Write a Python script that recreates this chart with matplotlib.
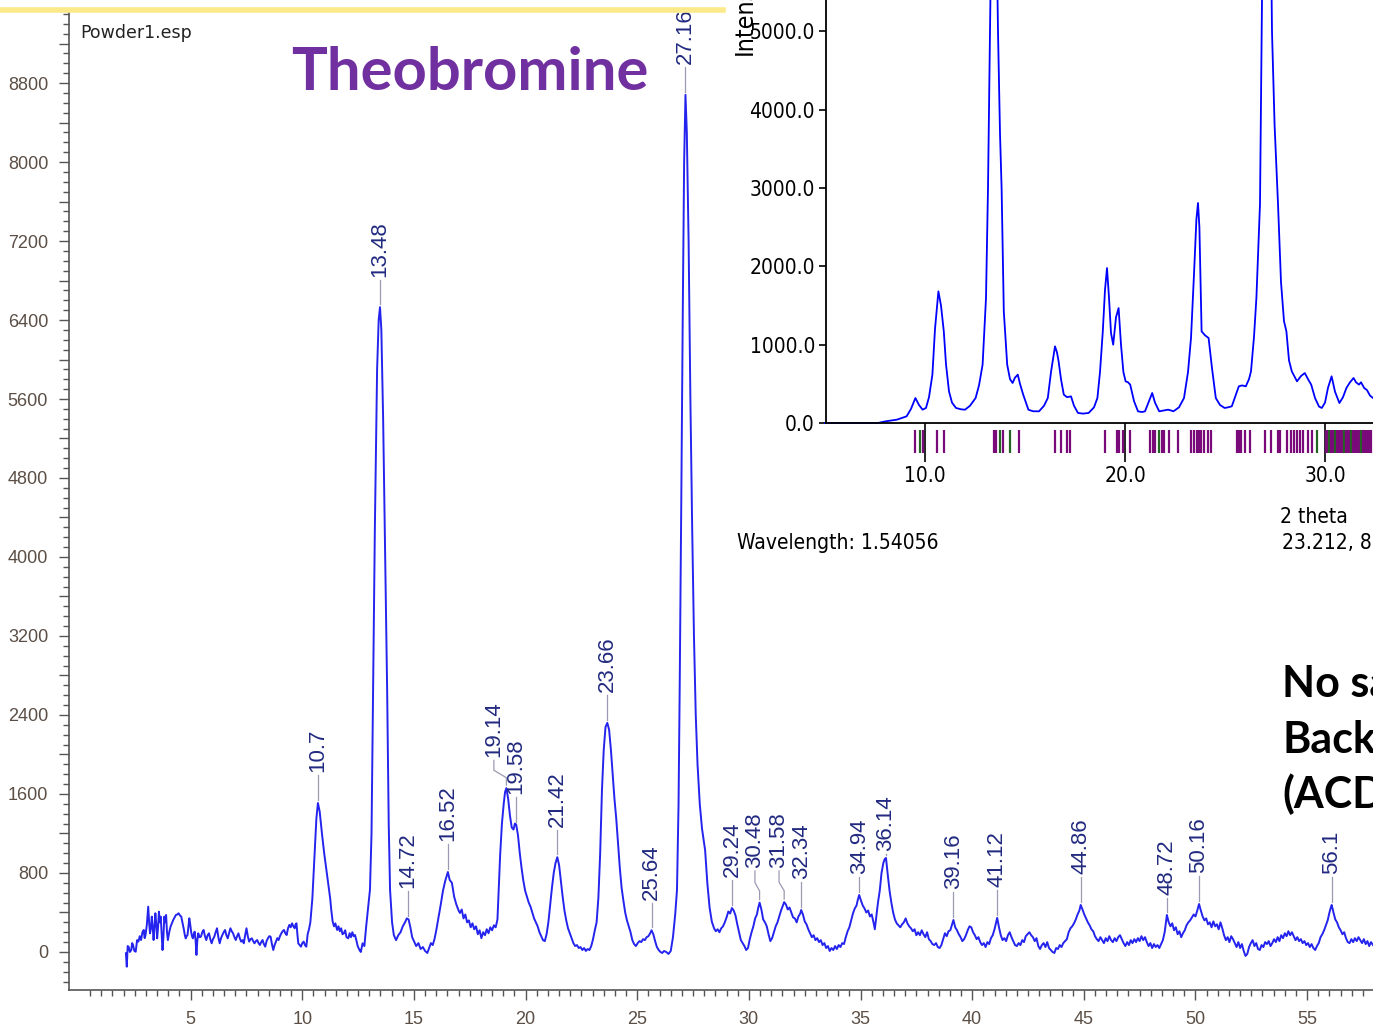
import os
import numpy as np
import matplotlib
matplotlib.use('Agg')
import matplotlib.pyplot as plt
import matplotlib.font_manager as fm
from matplotlib.ticker import MultipleLocator, FixedLocator, FuncFormatter
from matplotlib.lines import Line2D

plt.rcParams['font.family'] = ['Liberation Sans', 'DejaVu Sans']

W, H = 1373, 1030

pattern = [
    (2.10, -13), (2.14, -149), (2.18, 60), (2.22, 54), (2.28, 0), (2.34, 20), (2.38, 90), (2.42, 71),
    (2.48, 10), (2.54, 3), (2.60, 120), (2.66, 105), (2.72, 160), (2.78, 121), (2.84, 200), (2.90, 223),
    (2.94, 140), (2.98, 172), (3.04, 280), (3.10, 459), (3.14, 300), (3.18, 189), (3.22, 240), (3.26, 358),
    (3.30, 250), (3.34, 121), (3.38, 260), (3.42, 392), (3.46, 280), (3.50, 138), (3.54, 250), (3.58, 408),
    (3.62, 300), (3.66, 358), (3.70, 180), (3.74, 20), (3.78, 150), (3.82, 358), (3.86, 300), (3.90, 375),
    (3.94, 200), (3.98, 120), (4.04, 200), (4.10, 257), (4.16, 290), (4.22, 324), (4.28, 350), (4.34, 375),
    (4.40, 380), (4.46, 392), (4.52, 370), (4.58, 358), (4.64, 290), (4.70, 223), (4.74, 170), (4.78, 138),
    (4.82, 160), (4.86, 172), (4.90, 260), (4.94, 341), (4.98, 280), (5.02, 206), (5.06, 160), (5.10, 138),
    (5.14, 180), (5.18, 206), (5.22, 120), (5.26, -30), (5.30, 120), (5.34, 189), (5.40, 150), (5.46, 155),
    (5.52, 200), (5.58, 223), (5.64, 160), (5.70, 121), (5.76, 170), (5.82, 189), (5.88, 130), (5.94, 88),
    (6.00, 130), (6.06, 155), (6.12, 200), (6.18, 240), (6.24, 150), (6.30, 88), (6.36, 140), (6.42, 172),
    (6.48, 200), (6.54, 223), (6.60, 170), (6.66, 138), (6.72, 190), (6.78, 240), (6.84, 210), (6.90, 189),
    (6.96, 150), (7.02, 121), (7.08, 160), (7.14, 189), (7.20, 140), (7.26, 105), (7.32, 120), (7.38, 88),
    (7.44, 170), (7.50, 240), (7.56, 160), (7.62, 105), (7.68, 130), (7.74, 138), (7.80, 110), (7.86, 88),
    (7.92, 110), (7.98, 121), (8.04, 90), (8.10, 71), (8.16, 100), (8.22, 121), (8.28, 80), (8.34, 54),
    (8.40, 110), (8.46, 138), (8.52, 160), (8.58, 155), (8.64, 80), (8.70, 20), (8.76, 70), (8.82, 105),
    (8.88, 140), (8.94, 121), (9.00, 160), (9.06, 189), (9.12, 210), (9.18, 223), (9.24, 190), (9.30, 172),
    (9.36, 240), (9.42, 274), (9.48, 250), (9.54, 290), (9.60, 260), (9.66, 240), (9.70, 280), (9.74, 290),
    (9.78, 180), (9.82, 88), (9.88, 70), (9.94, 54), (10.00, 90), (10.06, 105), (10.12, 70), (10.18, 54),
    (10.24, 180), (10.30, 230), (10.36, 300), (10.45, 540), (10.55, 1000), (10.63, 1350), (10.70, 1509),
    (10.78, 1420), (10.88, 1200), (10.98, 1000), (11.08, 830), (11.16, 695), (11.25, 540), (11.30, 420),
    (11.36, 307), (11.42, 260), (11.48, 290), (11.56, 223), (11.62, 260), (11.68, 210), (11.74, 240),
    (11.80, 180), (11.86, 189), (11.92, 220), (11.98, 150), (12.06, 138), (12.12, 190), (12.18, 150),
    (12.24, 200), (12.30, 160), (12.36, 172), (12.42, 120), (12.48, 60), (12.56, 20), (12.62, 0),
    (12.70, 88), (12.78, 60), (12.86, 257), (12.95, 450), (13.03, 630), (13.10, 1200), (13.17, 2650),
    (13.25, 4300), (13.35, 5900), (13.42, 6400), (13.48, 6530), (13.54, 6300), (13.62, 5400), (13.70, 4200),
    (13.80, 2650), (13.87, 1300), (13.93, 630), (14.02, 300), (14.10, 170), (14.20, 120), (14.30, 170),
    (14.40, 200), (14.50, 260), (14.60, 300), (14.68, 340), (14.76, 330), (14.84, 250), (14.92, 150),
    (15.00, 110), (15.10, 60), (15.20, 90), (15.30, 30), (15.40, 50), (15.50, 10), (15.60, -10), (15.68, 40),
    (15.76, 90), (15.84, 70), (15.92, 130), (16.00, 220), (16.10, 350), (16.20, 480), (16.30, 620),
    (16.40, 720), (16.52, 810), (16.60, 730), (16.70, 700), (16.80, 560), (16.90, 480), (17.00, 420),
    (17.06, 395), (17.14, 430), (17.22, 340), (17.30, 380), (17.38, 300), (17.46, 320), (17.54, 250),
    (17.62, 290), (17.70, 230), (17.78, 260), (17.86, 180), (17.94, 220), (18.02, 140), (18.10, 200),
    (18.18, 170), (18.26, 230), (18.34, 190), (18.42, 250), (18.50, 220), (18.58, 270), (18.66, 250),
    (18.74, 330), (18.80, 650), (18.86, 980), (18.94, 1300), (19.02, 1500), (19.08, 1620), (19.14, 1660),
    (19.22, 1550), (19.30, 1380), (19.38, 1260), (19.46, 1240), (19.52, 1300), (19.58, 1290), (19.66, 1180),
    (19.74, 1000), (19.82, 850), (19.90, 720), (19.98, 620), (20.06, 560), (20.14, 500), (20.22, 460),
    (20.30, 400), (20.38, 340), (20.46, 300), (20.54, 260), (20.62, 200), (20.70, 160), (20.78, 120),
    (20.86, 110), (20.94, 180), (21.02, 300), (21.10, 480), (21.18, 650), (21.26, 800), (21.34, 900),
    (21.42, 960), (21.50, 880), (21.58, 720), (21.66, 560), (21.74, 420), (21.82, 320), (21.90, 240),
    (21.98, 190), (22.06, 140), (22.14, 90), (22.22, 60), (22.30, 70), (22.38, 40), (22.46, 50),
    (22.54, 20), (22.62, 40), (22.70, 10), (22.78, 30), (22.86, 20), (22.94, 60), (23.02, 130),
    (23.10, 220), (23.18, 300), (23.26, 550), (23.34, 1000), (23.42, 1640), (23.50, 2050), (23.58, 2280),
    (23.66, 2320), (23.74, 2250), (23.82, 2050), (23.90, 1800), (23.98, 1550), (24.06, 1350), (24.14, 1100),
    (24.22, 850), (24.30, 650), (24.38, 520), (24.46, 400), (24.54, 320), (24.62, 260), (24.70, 200),
    (24.78, 120), (24.86, 80), (24.94, 60), (25.02, 90), (25.10, 110), (25.18, 100), (25.26, 130),
    (25.34, 120), (25.42, 150), (25.50, 160), (25.58, 190), (25.64, 220), (25.72, 180), (25.80, 110),
    (25.88, 50), (25.96, 20), (26.04, 0), (26.12, -10), (26.20, 10), (26.30, 0), (26.40, -20), (26.50, 10),
    (26.60, 150), (26.70, 380), (26.78, 628), (26.85, 1500), (26.90, 2650), (26.97, 4500), (27.04, 6500),
    (27.10, 8000), (27.16, 8680), (27.22, 8300), (27.30, 7200), (27.38, 5600), (27.46, 4300), (27.54, 3200),
    (27.62, 2400), (27.70, 1900), (27.80, 1500), (27.90, 1250), (28.04, 1030), (28.14, 695), (28.24, 450),
    (28.34, 307), (28.44, 240), (28.52, 210), (28.60, 230), (28.68, 200), (28.76, 240), (28.84, 260),
    (28.92, 300), (29.00, 350), (29.08, 410), (29.16, 390), (29.24, 445), (29.32, 420), (29.40, 370),
    (29.48, 280), (29.56, 200), (29.64, 120), (29.72, 90), (29.80, 60), (29.88, 20), (29.96, 40),
    (30.04, 130), (30.12, 200), (30.20, 260), (30.28, 340), (30.36, 380), (30.42, 450), (30.48, 500),
    (30.56, 430), (30.64, 330), (30.72, 300), (30.80, 260), (30.88, 180), (30.96, 110), (31.04, 140),
    (31.12, 200), (31.20, 260), (31.28, 300), (31.36, 360), (31.44, 420), (31.52, 470), (31.58, 505),
    (31.66, 480), (31.74, 430), (31.82, 450), (31.90, 400), (31.98, 350), (32.06, 340), (32.14, 300),
    (32.22, 360), (32.30, 390), (32.34, 425), (32.42, 380), (32.50, 310), (32.58, 280), (32.66, 230),
    (32.74, 190), (32.82, 150), (32.90, 170), (32.98, 120), (33.06, 140), (33.14, 100), (33.22, 120),
    (33.30, 70), (33.38, 90), (33.46, 40), (33.54, 60), (33.62, 10), (33.70, 40), (33.78, 20), (33.86, 60),
    (33.94, 30), (34.02, 70), (34.10, 50), (34.18, 90), (34.26, 80), (34.34, 150), (34.42, 210),
    (34.50, 250), (34.58, 320), (34.66, 390), (34.74, 440), (34.82, 470), (34.88, 530), (34.94, 577),
    (35.02, 520), (35.10, 470), (35.18, 440), (35.26, 400), (35.34, 420), (35.42, 360), (35.50, 380),
    (35.58, 300), (35.64, 230), (35.70, 350), (35.78, 500), (35.86, 620), (35.94, 800), (36.02, 900),
    (36.08, 940), (36.14, 952), (36.22, 780), (36.30, 620), (36.38, 500), (36.46, 400), (36.54, 330),
    (36.62, 290), (36.70, 270), (36.78, 250), (36.86, 280), (36.94, 300), (37.02, 340), (37.10, 290),
    (37.18, 260), (37.26, 240), (37.34, 210), (37.42, 230), (37.50, 170), (37.58, 200), (37.66, 170),
    (37.74, 220), (37.82, 180), (37.90, 150), (37.98, 200), (38.06, 130), (38.14, 110), (38.22, 80),
    (38.30, 70), (38.38, 90), (38.46, 50), (38.54, 40), (38.62, 70), (38.70, 130), (38.78, 190),
    (38.86, 160), (38.94, 210), (39.02, 220), (39.10, 280), (39.16, 324), (39.24, 250), (39.32, 220),
    (39.40, 180), (39.48, 150), (39.56, 110), (39.64, 130), (39.72, 170), (39.80, 220), (39.88, 260),
    (39.96, 250), (40.04, 200), (40.12, 170), (40.20, 130), (40.28, 150), (40.36, 100), (40.44, 70),
    (40.52, 90), (40.60, 50), (40.68, 100), (40.76, 80), (40.84, 140), (40.92, 170), (41.00, 230),
    (41.06, 290), (41.12, 345), (41.20, 250), (41.28, 170), (41.36, 120), (41.44, 140), (41.52, 110),
    (41.60, 170), (41.68, 200), (41.76, 150), (41.84, 110), (41.92, 70), (42.00, 60), (42.08, 90),
    (42.16, 70), (42.24, 120), (42.32, 100), (42.40, 160), (42.48, 180), (42.56, 200), (42.64, 170),
    (42.72, 150), (42.80, 110), (42.88, 140), (42.96, 60), (43.04, 30), (43.12, 70), (43.20, 90),
    (43.28, 50), (43.36, 100), (43.44, 40), (43.52, 20), (43.60, 0), (43.68, -10), (43.76, 40), (43.84, 30),
    (43.92, 70), (44.00, 50), (44.08, 90), (44.16, 110), (44.24, 130), (44.32, 200), (44.40, 240),
    (44.48, 260), (44.56, 290), (44.64, 330), (44.72, 380), (44.80, 420), (44.86, 476), (44.94, 430),
    (45.02, 380), (45.10, 340), (45.18, 300), (45.26, 270), (45.34, 230), (45.42, 210), (45.50, 160),
    (45.58, 130), (45.66, 110), (45.74, 150), (45.82, 120), (45.90, 90), (45.98, 140), (46.06, 110),
    (46.14, 160), (46.22, 120), (46.30, 100), (46.38, 140), (46.46, 110), (46.54, 150), (46.62, 170),
    (46.70, 130), (46.78, 90), (46.86, 60), (46.94, 100), (47.02, 70), (47.10, 120), (47.18, 90),
    (47.26, 130), (47.34, 100), (47.42, 140), (47.50, 110), (47.58, 160), (47.66, 120), (47.74, 150),
    (47.82, 100), (47.90, 60), (47.98, 90), (48.06, 40), (48.14, 80), (48.22, 50), (48.30, 70), (48.38, 40),
    (48.46, 80), (48.54, 120), (48.62, 200), (48.68, 300), (48.72, 375), (48.80, 300), (48.88, 260),
    (48.96, 290), (49.04, 220), (49.12, 250), (49.20, 180), (49.28, 210), (49.36, 150), (49.44, 190),
    (49.52, 220), (49.60, 270), (49.68, 300), (49.76, 320), (49.84, 350), (49.92, 380), (50.00, 360),
    (50.08, 420), (50.16, 486), (50.24, 420), (50.32, 360), (50.40, 320), (50.48, 340), (50.56, 280),
    (50.64, 300), (50.72, 250), (50.80, 310), (50.88, 260), (50.96, 280), (51.04, 230), (51.12, 300),
    (51.20, 240), (51.28, 170), (51.36, 120), (51.44, 150), (51.52, 100), (51.60, 160), (51.68, 130),
    (51.76, 90), (51.84, 50), (51.92, 100), (52.00, 40), (52.08, 80), (52.16, 10), (52.24, -40),
    (52.32, -20), (52.40, 50), (52.48, 90), (52.56, 120), (52.64, 60), (52.72, 90), (52.80, 30),
    (52.88, 20), (52.96, 70), (53.04, 50), (53.12, 100), (53.20, 80), (53.28, 110), (53.36, 60),
    (53.44, 90), (53.52, 130), (53.60, 100), (53.68, 150), (53.76, 110), (53.84, 170), (53.92, 140),
    (54.00, 190), (54.08, 160), (54.16, 210), (54.24, 170), (54.32, 200), (54.40, 160), (54.48, 120),
    (54.56, 150), (54.64, 110), (54.72, 130), (54.80, 90), (54.88, 110), (54.96, 70), (55.04, 90),
    (55.12, 50), (55.20, 80), (55.28, 40), (55.36, 20), (55.44, 60), (55.52, 90), (55.60, 150),
    (55.68, 180), (55.76, 220), (55.84, 270), (55.92, 320), (56.00, 400), (56.06, 450), (56.10, 476),
    (56.18, 400), (56.26, 330), (56.34, 300), (56.42, 250), (56.50, 220), (56.58, 180), (56.66, 200),
    (56.74, 140), (56.82, 100), (56.90, 90), (56.98, 130), (57.06, 100), (57.14, 140), (57.22, 110),
    (57.30, 150), (57.38, 120), (57.46, 90), (57.54, 130), (57.62, 80), (57.70, 110), (57.78, 60),
    (57.86, 100), (57.95, 70),
]
two_theta = [p[0] for p in pattern]
counts = [p[1] for p in pattern]

# labelled peaks
peak_pos = [10.7, 13.48, 14.72, 16.52, 19.14, 19.58, 21.42, 23.66, 25.64, 27.16, 29.24,
            30.48, 31.58, 32.34, 34.94, 36.14, 39.16, 41.12, 44.86, 48.72, 50.16, 56.1]
peak_lbl = ['10.7', '13.48', '14.72', '16.52', '19.14', '19.58', '21.42', '23.66', '25.64', '27.16',
            '29.24', '30.48', '31.58', '32.34', '34.94', '36.14', '39.16', '41.12', '44.86',
            '48.72', '50.16', '56.1']
label_shift = {19.14: -0.56, 30.48: -0.21, 31.58: -0.23}
label_gap = {34.94: 215, 36.14: 75, 48.72: 205, 30.48: 350, 31.58: 345}

# calculated pattern shown in the inset
sim = [
    (5.0, 0), (7.65, 0), (8.0, 20), (8.6, 43), (9.08, 85), (9.3, 180), (9.52, 319), (9.7, 230),
    (9.88, 170), (10.05, 192), (10.2, 330), (10.37, 617), (10.5, 1200), (10.67, 1681), (10.8, 1500),
    (10.94, 1170), (11.05, 750), (11.2, 404), (11.35, 260), (11.55, 192), (11.8, 175), (12.0, 170),
    (12.25, 220), (12.53, 319), (12.7, 480), (12.88, 745), (13.05, 1596), (13.15, 3000), (13.25, 5000),
    (13.35, 7000), (13.45, 7800), (13.55, 6800), (13.65, 5000), (13.75, 3700), (13.83, 3000),
    (13.94, 1425), (14.11, 745), (14.25, 560), (14.38, 511), (14.5, 580), (14.64, 617), (14.75, 500),
    (14.91, 362), (15.17, 170), (15.4, 150), (15.7, 149), (15.95, 220), (16.14, 319), (16.3, 650),
    (16.5, 979), (16.6, 900), (16.68, 787), (16.8, 560), (16.94, 362), (17.1, 330), (17.3, 340),
    (17.45, 220), (17.65, 128), (17.9, 120), (18.18, 128), (18.45, 200), (18.62, 319), (18.75, 650),
    (18.89, 1170), (19.0, 1700), (19.1, 1979), (19.2, 1600), (19.3, 1150), (19.41, 1000), (19.55, 1350),
    (19.68, 1468), (19.8, 1000), (19.92, 650), (20.03, 532), (20.15, 520), (20.26, 490), (20.45, 280),
    (20.65, 149), (20.85, 140), (21.0, 149), (21.2, 280), (21.36, 383), (21.5, 260), (21.71, 149),
    (21.95, 160), (22.15, 170), (22.3, 160), (22.42, 149), (22.7, 200), (22.95, 319), (23.15, 650),
    (23.3, 1085), (23.45, 1900), (23.57, 2600), (23.65, 2810), (23.72, 2500), (23.83, 1170),
    (24.0, 1120), (24.18, 1085), (24.35, 700), (24.54, 319), (24.75, 230), (24.98, 192), (25.15, 200),
    (25.34, 213), (25.5, 330), (25.69, 468), (25.85, 480), (26.04, 468), (26.2, 560), (26.3, 660),
    (26.45, 1100), (26.57, 1596), (26.75, 2800), (26.83, 5000), (27.0, 8500), (27.1, 9500),
    (27.22, 8000), (27.35, 5000), (27.48, 3800), (27.65, 2800), (27.8, 1800), (27.95, 1300),
    (28.07, 1170), (28.2, 800), (28.34, 660), (28.6, 532), (28.8, 600), (28.99, 638), (29.15, 560),
    (29.31, 490), (29.5, 320), (29.7, 210), (29.84, 192), (30.0, 260), (30.15, 450), (30.33, 596),
    (30.5, 400), (30.72, 255), (30.9, 330), (31.07, 447), (31.25, 520), (31.43, 575), (31.55, 520),
    (31.7, 490), (31.8, 520), (31.96, 447), (32.1, 420), (32.25, 350), (32.4, 319),
]
sim_tt = [p[0] for p in sim]
sim_int = [p[1] for p in sim]

# reflection markers under the inset (p = purple, g = green)
hkl_pos = [9.5, 9.75, 9.9, 10.6, 10.95, 13.43, 13.55, 13.75, 13.9, 14.25, 14.7, 16.48, 16.8, 17.1,
           17.25, 19.0, 19.58, 19.7, 19.9, 20.25, 21.27, 21.38, 21.52, 21.69, 21.83, 21.96, 22.21,
           22.67, 23.29, 23.46, 23.6, 23.71, 23.81, 23.96, 24.13, 24.29, 25.58, 25.69, 25.79, 26.0,
           26.25, 27.0, 27.29, 27.63, 27.77, 28.08, 28.29, 28.46, 28.6, 28.75, 28.92, 29.13, 29.33,
           29.58, 30.06, 30.12, 30.2, 30.28, 30.36, 30.44, 30.52, 30.6, 30.66, 30.75, 30.85, 30.95,
           31.05, 31.12, 31.2, 31.3, 31.4, 31.5, 31.6, 31.7, 31.8, 31.9, 32.0, 32.1, 32.2, 32.3]
hkl_kind = ['p', 'g', 'p', 'p', 'p', 'p', 'p', 'g', 'p', 'g', 'p', 'p', 'p', 'p',
            'p', 'p', 'p', 'p', 'p', 'p', 'p', 'p', 'p', 'g', 'p', 'p', 'p',
            'p', 'p', 'p', 'p', 'p', 'p', 'p', 'p', 'p', 'p', 'p', 'p', 'p',
            'p', 'p', 'p', 'p', 'p', 'p', 'p', 'p', 'p', 'p', 'p', 'p', 'p',
            'g', 'p', 'p', 'g', 'p', 'p', 'p', 'g', 'p', 'p', 'p', 'p', 'g',
            'p', 'p', 'p', 'g', 'p', 'p', 'p', 'p', 'g', 'p', 'p', 'p', 'p', 'p']

TRACE = '#2424ee'
TICKTXT = '#5b4e45'
LBL = '#222a80'


def narrow_props(size):
    """condensed face for the inset texts, if one is installed"""
    files = [f.fname for f in fm.fontManager.ttflist]
    try:
        files += fm.findSystemFonts()
    except Exception:
        pass
    for key in ['LiberationSansNarrow-Regular', 'DejaVuSansCondensed.ttf',
                'RobotoCondensed-Regular', 'OpenSans_Condensed-Regular', 'NotoSans-Condensed.ttf']:
        for f in files:
            if key in os.path.basename(f):
                return fm.FontProperties(fname=f, size=size)
    return fm.FontProperties(family=['Liberation Sans', 'DejaVu Sans'], size=size - 2)


fig = plt.figure(figsize=(W / 100, H / 100), dpi=100)

# ---- main measured pattern ----
ax = fig.add_axes([69 / W, 1 - 990 / H, (W - 69) / W, (990 - 13) / H])
ax.plot(two_theta, counts, color=TRACE, lw=1.4)
ax.set_xlim(-0.448, 57.95)
ax.set_ylim(-385, 9509)
for s in ['top', 'right']:
    ax.spines[s].set_visible(False)
for s in ['left', 'bottom']:
    ax.spines[s].set_color('#555555')
    ax.spines[s].set_linewidth(1.2)

ax.xaxis.set_major_locator(FixedLocator(np.arange(5, 60, 5)))
ax.xaxis.set_minor_locator(FixedLocator(np.arange(0.5, 58, 0.5)))
ax.xaxis.set_major_formatter(FuncFormatter(lambda v, _: f'{int(round(v))}'))
ax.yaxis.set_major_locator(MultipleLocator(400))
ax.yaxis.set_minor_locator(MultipleLocator(100))
ax.yaxis.set_major_formatter(FuncFormatter(lambda v, _: f'{int(round(v))}' if round(v) % 800 == 0 else ''))
ax.tick_params(which='major', length=7, width=1, color='#555555', labelsize=13,
               labelcolor=TICKTXT, pad=8)
ax.tick_params(which='minor', length=4.3, width=1, color='#555555')

for pos, lbl in zip(peak_pos, peak_lbl):
    pk = np.interp(pos, two_theta, counts)
    lx = pos + label_shift.get(pos, 0)
    tb = pk + label_gap.get(pos, 310)
    ax.text(lx, tb, lbl, rotation=90, ha='center', va='bottom', fontsize=16, color=LBL)
    top, bot = tb - 30, pk + 30
    span = top - bot
    ax.plot([lx, lx, pos, pos], [top, top - 0.4 * span, top - 0.7 * span, bot],
            color='#9a9ab2', lw=0.9)

fig.text(80 / W, 1 - 33 / H, 'Powder1.esp', fontsize=12.5, color='#222222',
         va='center', family=['DejaVu Sans'])

# ---- inset: calculated pattern ----
nprop = narrow_props(15)
ins = fig.add_axes([826 / W, 1 - 423 / H, (W - 826) / W, 423 / H])
ins.patch.set_alpha(0)
ins.plot(sim_tt, sim_int, color='#0000ff', lw=1.3, clip_on=False)
ins.set_xlim(5.05, 32.4)
ins.set_ylim(0, 5402)
for s in ['top', 'right']:
    ins.spines[s].set_visible(False)
for s in ['left', 'bottom']:
    ins.spines[s].set_color('black')
    ins.spines[s].set_linewidth(1.3)
ins.yaxis.set_major_locator(FixedLocator([0, 1000, 2000, 3000, 4000, 5000]))
ins.xaxis.set_major_locator(FixedLocator([10, 20, 30]))
ins.yaxis.set_major_formatter(FuncFormatter(lambda v, _: f'{v:.1f}'))
ins.xaxis.set_major_formatter(FuncFormatter(lambda v, _: f'{v:.1f}'))
ins.tick_params(axis='y', length=5, width=1.2, pad=3)
ins.tick_params(axis='x', length=28, width=1.2, pad=3)
for t in ins.get_xticklabels() + ins.get_yticklabels():
    t.set_fontproperties(nprop)

hk = fig.add_axes([826 / W, 1 - 453 / H, (W - 826) / W, 23 / H])
hk.set_xlim(5.05, 32.4)
hk.set_ylim(0, 1)
hk.axis('off')
hk.vlines(hkl_pos, 0, 1, colors=['#7a0a7a' if k == 'p' else '#226622' for k in hkl_kind], lw=1.6)

big = nprop.copy()
big.set_size(18)
fig.text(745 / W, 1 - 55 / H, 'Intensity', rotation=90, ha='center', va='bottom', fontproperties=big)
fig.text(737 / W, 1 - 543 / H, 'Wavelength: 1.54056', va='center', fontproperties=nprop)
fig.text(1280 / W, 1 - 517 / H, '2 theta', va='center', fontproperties=nprop)
fig.text(1282 / W, 1 - 543 / H, '23.212, 8130', va='center', fontproperties=nprop)

# ---- slide overlay text ----
fig.text(291 / W, 1 - 90 / H, 'Theobromine', fontsize=43, fontweight='bold', color='#7030a0',
         va='baseline', family=['Lato', 'Open Sans', 'DejaVu Sans'])
for txt, base in [('No sample', 697), ('Background', 753), ('(ACD)', 808)]:
    fig.text(1282 / W, 1 - base / H, txt, fontsize=31, fontweight='bold', color='black',
             va='baseline', family=['Lato', 'Open Sans', 'DejaVu Sans'])

fig.add_artist(Line2D([0, 723 / W], [1 - 10 / H] * 2, color='#fce98a', lw=4,
                      transform=fig.transFigure))

fig.savefig('out.png', dpi=100)
